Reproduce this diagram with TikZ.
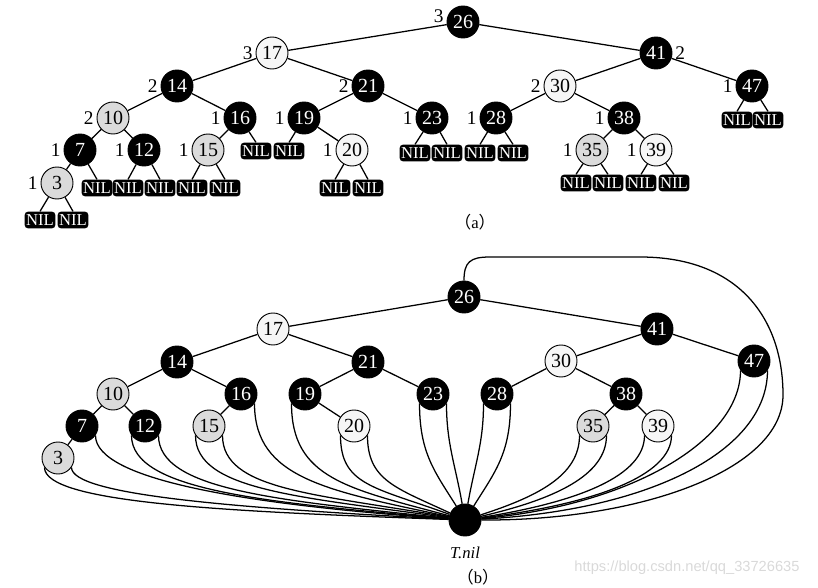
\documentclass[tikz,border=0pt]{standalone}
\usepackage{fontspec}
\setmainfont{Liberation Serif}
\newfontfamily\cjk{Noto Sans CJK SC}
\newfontfamily\wmfont{Liberation Sans}
\usetikzlibrary{calc}
\begin{document}
\begin{tikzpicture}[x=0.75pt,y=0.75pt,
  nd/.style={circle, draw=black, line width=0.7pt, minimum size=24pt, inner sep=0pt, font=\fontsize{15}{15}\selectfont},
  bn/.style={nd, fill=black, text=white},
  rn/.style={nd, fill=gray!28},
  wn/.style={nd, fill=gray!7},
  nilbox/.style={rectangle, rounded corners=2.5pt, fill=black, text=white, minimum width=23pt, minimum height=12.5pt, inner sep=0pt, font=\fontsize{12.5}{12.5}\selectfont},
  edge/.style={line width=0.95pt},
  hl/.style={font=\fontsize{14.5}{14.5}\selectfont, inner sep=0.5pt},
  every label/.style={hl}, label distance=1.5pt]
\useasboundingbox (0,0) rectangle (818,-588);

% ---------------- (a) ----------------
\node[bn, label={[yshift=4pt]180:3}] (a26) at (463,-22) {26};
\node[wn, label={180:3}] (a17) at (272,-53) {17};
\node[bn, label={0:2}]   (a41) at (656,-53) {41};
\node[bn, label={180:2}] (a14) at (177,-86) {14};
\node[bn, label={180:2}] (a21) at (368,-86) {21};
\node[wn, label={180:2}] (a30) at (560,-86) {30};
\node[bn, label={180:1}] (a47) at (752,-86) {47};
\node[rn, label={180:2}] (a10) at (113,-118) {10};
\node[bn, label={180:1}] (a16) at (240,-118) {16};
\node[bn, label={180:1}] (a19) at (304,-118) {19};
\node[bn, label={180:1}] (a23) at (432,-118) {23};
\node[bn, label={180:1}] (a28) at (496,-118) {28};
\node[bn, label={180:1}] (a38) at (624,-118) {38};
\node[bn, label={180:1}] (a7)  at (80,-150) {7};
\node[bn, label={180:1}] (a12) at (144,-150) {12};
\node[rn, label={180:1}] (a15) at (208,-150) {15};
\node[wn, label={180:1}] (a20) at (352,-150) {20};
\node[rn, label={180:1}] (a35) at (592,-150) {35};
\node[wn, label={180:1}] (a39) at (656,-150) {39};
\node[rn, label={180:1}] (a3)  at (57,-183) {3};

\node[nilbox] (n3l)  at (40,-220) {NIL};
\node[nilbox] (n3r)  at (73,-220) {NIL};
\node[nilbox] (n7r)  at (97,-188) {NIL};
\node[nilbox] (n12l) at (128,-188) {NIL};
\node[nilbox] (n12r) at (160,-188) {NIL};
\node[nilbox] (n15l) at (192,-188) {NIL};
\node[nilbox] (n15r) at (225,-188) {NIL};
\node[nilbox] (n16r) at (256,-151) {NIL};
\node[nilbox] (n19l) at (289,-151) {NIL};
\node[nilbox] (n20l) at (335,-188) {NIL};
\node[nilbox] (n20r) at (368,-188) {NIL};
\node[nilbox] (n23l) at (415,-153) {NIL};
\node[nilbox] (n23r) at (447,-153) {NIL};
\node[nilbox] (n28l) at (480,-153) {NIL};
\node[nilbox] (n28r) at (513,-153) {NIL};
\node[nilbox] (n35l) at (576,-183) {NIL};
\node[nilbox] (n35r) at (608,-183) {NIL};
\node[nilbox] (n39l) at (641,-183) {NIL};
\node[nilbox] (n39r) at (674,-183) {NIL};
\node[nilbox] (n47l) at (737,-120) {NIL};
\node[nilbox] (n47r) at (768,-120) {NIL};

\draw[edge] (a26)--(a17) (a26)--(a41) (a17)--(a14) (a17)--(a21)
  (a41)--(a30) (a41)--(a47) (a14)--(a10) (a14)--(a16) (a21)--(a19) (a21)--(a23)
  (a30)--(a28) (a30)--(a38) (a10)--(a7) (a10)--(a12) (a16)--(a15) (a19)--(a20)
  (a38)--(a35) (a38)--(a39) (a7)--(a3);
\draw[edge] (a3)--(n3l.north) (a3)--(n3r.north) (a7)--(n7r.north)
  (a12)--(n12l.north) (a12)--(n12r.north) (a15)--(n15l.north) (a15)--(n15r.north)
  (a16)--(n16r.north) (a19)--(n19l.north) (a20)--(n20l.north) (a20)--(n20r.north)
  (a23)--(n23l.north) (a23)--(n23r.north) (a28)--(n28l.north) (a28)--(n28r.north)
  (a35)--(n35l.north) (a35)--(n35r.north) (a39)--(n39l.north) (a39)--(n39r.north)
  (a47)--(n47l.north) (a47)--(n47r.north);

\node[font=\fontsize{12.5}{12.5}\selectfont] (capa) at (475,-222) {{\cjk （}a{\cjk ）}};

% ---------------- (b) ----------------
\node[bn] (b26) at (464,-297) {26};
\node[wn] (b17) at (273,-329) {17};
\node[bn] (b41) at (657,-329) {41};
\node[bn] (b14) at (177,-362) {14};
\node[bn] (b21) at (368,-362) {21};
\node[wn] (b30) at (561,-361) {30};
\node[bn] (b47) at (754,-361) {47};
\node[rn] (b10) at (113,-394) {10};
\node[bn] (b16) at (241,-394) {16};
\node[bn] (b19) at (305,-394) {19};
\node[bn] (b23) at (433,-394) {23};
\node[bn] (b28) at (497,-394) {28};
\node[bn] (b38) at (626,-394) {38};
\node[bn] (b7)  at (82,-426) {7};
\node[bn] (b12) at (145,-426) {12};
\node[rn] (b15) at (209,-426) {15};
\node[wn] (b20) at (354,-426) {20};
\node[rn] (b35) at (593,-426) {35};
\node[wn] (b39) at (658,-426) {39};
\node[rn] (b3)  at (58,-458) {3};
\node[bn] (tnil) at (465,-520) {};

\draw[edge] (b26)--(b17) (b26)--(b41) (b17)--(b14) (b17)--(b21)
  (b41)--(b30) (b41)--(b47) (b14)--(b10) (b14)--(b16) (b21)--(b19) (b21)--(b23)
  (b30)--(b28) (b30)--(b38) (b10)--(b7) (b10)--(b12) (b16)--(b15) (b19)--(b20)
  (b38)--(b35) (b38)--(b39) (b7)--(b3);

% sentinel links
\draw[edge] (b3.-145)  .. controls +(0,-35) and +(178:230) .. (tnil.178);
\draw[edge] (b3.-35)   .. controls +(0,-28) and +(177:210) .. (tnil.177);
\draw[edge] (b7.-35)   .. controls +(0,-45) and +(176:200) .. (tnil.176);
\draw[edge] (b12.-145) .. controls +(0,-55) and +(175:185) .. (tnil.175);
\draw[edge] (b12.-35)  .. controls +(0,-55) and +(174:170) .. (tnil.174);
\draw[edge] (b15.-145) .. controls +(0,-55) and +(172:150) .. (tnil.172);
\draw[edge] (b15.-35)  .. controls +(0,-55) and +(170:135) .. (tnil.170);
\draw[edge] (b16.-35)  .. controls +(0,-75) and +(168:125) .. (tnil.168);
\draw[edge] (b19.-145) .. controls +(0,-75) and +(165:105) .. (tnil.165);
\draw[edge] (b20.-145) .. controls +(0,-50) and +(160:80) .. (tnil.160);
\draw[edge] (b20.-35)  .. controls +(0,-45) and +(155:60) .. (tnil.155);
\draw[edge] (b23.-145) .. controls +(0,-50) and +(122:40) .. (tnil.122);
\draw[edge] (b23.-35)  .. controls +(0,-40) and +(100:40) .. (tnil.100);
\draw[edge] (b28.-145) .. controls +(0,-40) and +(80:40) .. (tnil.80);
\draw[edge] (b28.-35)  .. controls +(0,-50) and +(58:40) .. (tnil.58);
\draw[edge] (b35.-145) .. controls +(0,-40) and +(18:60) .. (tnil.18);
\draw[edge] (b35.-35)  .. controls +(0,-40) and +(13:75) .. (tnil.13);
\draw[edge] (b39.-145) .. controls +(0,-40) and +(9:100) .. (tnil.9);
\draw[edge] (b39.-35)  .. controls +(0,-40) and +(7:115) .. (tnil.7);
\draw[edge] (b47.-145) .. controls +(0,-70) and +(5:150) .. (tnil.5);
\draw[edge] (b47.-35)  .. controls +(0,-80) and +(3:170) .. (tnil.3);
\draw[edge] (b26.north) .. controls (464,-262) and (470,-257) .. (490,-257)
  -- (640,-257) .. controls (740,-257) and (783,-320) .. (783,-395)
  .. controls (783,-470) and (640,-521) .. (tnil.0);

\node[font=\fontsize{12.5}{12.5}\selectfont\itshape] (tlab) at (465,-553) {T.nil};
\node[font=\fontsize{12.5}{12.5}\selectfont] (capb) at (478,-577) {{\cjk （}b{\cjk ）}};
\node[font=\wmfont\fontsize{11}{11}\selectfont, text=gray!30] (wm) at (687,-568) {https://blog.csdn.net/qq\_33726635};
\end{tikzpicture}
\end{document}
